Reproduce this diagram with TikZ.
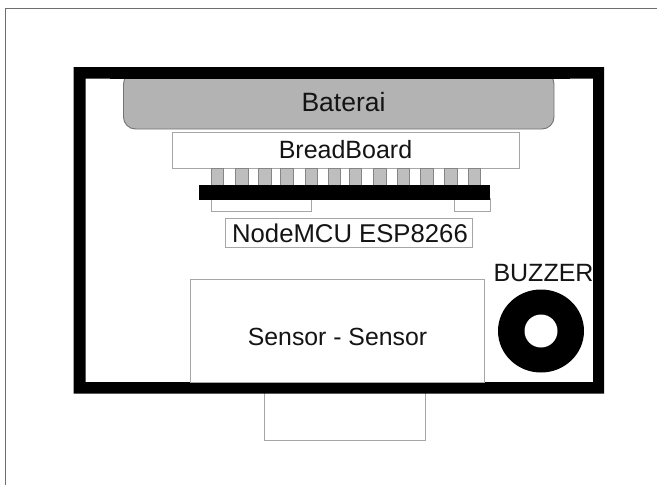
\documentclass[tikz,border=0pt]{standalone}
\usepackage{fontspec}
\setmainfont{Liberation Sans}
\definecolor{edge}{HTML}{A6A6A6}
\definecolor{batt}{HTML}{B3B3B3}
\definecolor{page}{HTML}{6E6E6E}
\tikzset{
  thinbox/.style={draw=edge,line width=1pt,fill=white},
  labelsized/.style={font=\fontsize{#1}{#1}\selectfont,text=black!92,inner sep=0pt,anchor=base},
  pin/.style={draw=edge!80!black,line width=.7pt,fill=batt!85!white}
}
\begin{document}
\begin{tikzpicture}[x=1pt,y=-1pt]
\useasboundingbox (0,0) rectangle (657,485);
\fill[white] (0,0) rectangle (657,485);
% page edge
\draw[page,line width=.9pt] (5.5,485) -- (5.5,8.5) -- (657,8.5);
% lower protruding box
\draw[thinbox] (264.5,385) rectangle (425,440);
% enclosure
\fill[black,even odd rule] (73.5,67) rectangle (604,393.5) (85.5,78.5) rectangle (593,382);
% battery
\draw[draw=edge!70!black,line width=.9pt,fill=batt,rounded corners=12pt] (123.5,72) rectangle (554,129);
\fill[black] (110,67) rectangle (570,78.5);
% breadboard
\draw[thinbox] (172,132.5) rectangle (519,168);
% pins
\foreach \a/\b in {211.7/223.3,235.7/248.3,258.7/271,280.7/293.3,305/317.3,328.3/340.3,349.3/361.7,373.7/386,397/409,420.7/433,444.7/457,468/480.3}
  \draw[pin] (\a,168) rectangle (\b,185.5);
% headers
\draw[thinbox] (211,198) rectangle (311,211);
\draw[thinbox] (454.7,198) rectangle (490,211);
\fill[black] (199.3,185.3) rectangle (490,200);
% nodemcu box
\draw[thinbox] (225.7,218) rectangle (472,247);
% sensor box
\draw[thinbox] (190.5,279.5) rectangle (484,382);
% buzzer
\fill[black] (541,331) ellipse [x radius=43,y radius=41.5];
\fill[white] (541,331) circle [radius=16.5];
% labels
\node[labelsized=26.5] (baterai) at (343.5,111) {Baterai};
\node[labelsized=25] (bb) at (345.5,158) {BreadBoard};
\node[labelsized=25.7] (mcu) at (350,242) {NodeMCU ESP8266};
\node[labelsized=24.8] (sensor) at (337.5,345) {Sensor - Sensor};
\node[labelsized=25] (buzzer) at (543.5,281.5) {BUZZER};
\end{tikzpicture}
\end{document}
